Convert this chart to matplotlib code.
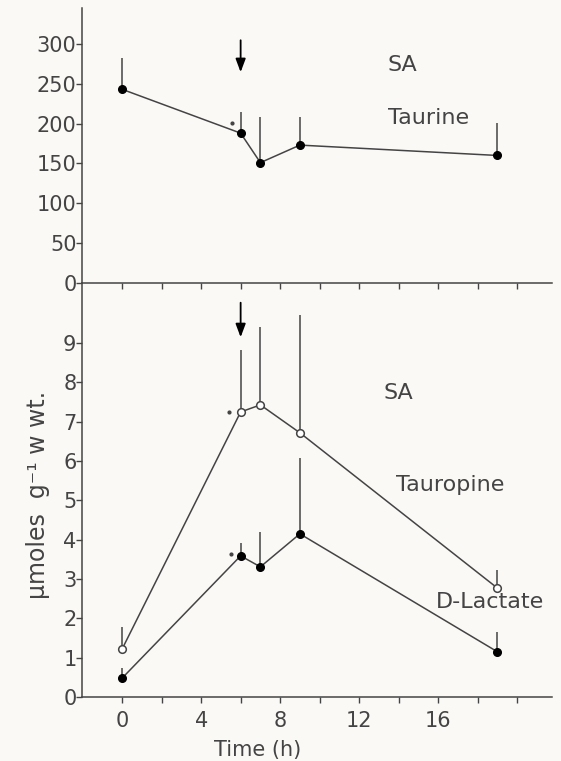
import matplotlib
matplotlib.use("Agg")
import matplotlib.pyplot as plt

# sampling times (h)
time = [0, 6, 7, 9, 19]

# taurine, upper panel (umol/g wet wt) and upward SD
taurine = [243, 188, 151, 173, 160]
taurine_err = [39, 27, 57, 35, 41]

# tauropine and D-lactate, lower panel
tauropine = [1.22, 7.25, 7.43, 6.72, 2.77]
tauropine_err = [0.56, 1.58, 1.98, 3.0, 0.46]
lactate = [0.48, 3.59, 3.31, 4.15, 1.15]
lactate_err = [0.26, 0.33, 0.89, 1.93, 0.50]

top_yticks = [0, 50, 100, 150, 200, 250, 300]
bottom_yticks = list(range(0, 10))
xticks = list(range(0, 21, 2))
xlabels = ["0", "", "4", "", "8", "", "12", "", "16", "", ""]

ink = "#444444"
bg = "#fbf9f6"
plt.rcParams["font.family"] = ["DejaVu Sans"]

fig = plt.figure(figsize=(5.61, 7.61), dpi=100, facecolor=bg)
ax1 = fig.add_axes([0.1462, 0.6281, 0.838, 0.3614])
ax2 = fig.add_axes([0.1462, 0.0841, 0.838, 0.5440])

xlim = (-2.03, 21.77)

for ax in (ax1, ax2):
    ax.patch.set_visible(False)
    ax.set_xlim(*xlim)
    for s in ("top", "right"):
        ax.spines[s].set_visible(False)
    for s in ("left", "bottom"):
        ax.spines[s].set_color(ink)
        ax.spines[s].set_linewidth(1.1)
    ax.set_xticks(xticks)
    ax.tick_params(direction="out", length=4, width=1, color=ink,
                   labelcolor=ink, labelsize=15)
    ax.tick_params(axis="y", pad=0)

# --- upper panel: taurine
ax1.set_ylim(0, 345)
ax1.set_yticks(top_yticks)
ax1.set_xticklabels([])
ax1.errorbar(time, taurine, yerr=[[0] * len(time), taurine_err], fmt="o-",
             color=ink, ecolor=ink, elinewidth=1.1, lw=1.1, capsize=0,
             markersize=5.5, markerfacecolor="black", markeredgecolor="black")
ax1.plot(time[1] - 0.45, taurine[1] + 13, ".", color=ink, markersize=4)
ax1.annotate("", xy=(6, 261), xytext=(6, 308),
             arrowprops=dict(arrowstyle="-|>,head_length=0.8,head_width=0.3",
                             color="black", lw=1.3))
ax1.text(14.2, 274, "SA", ha="center", va="center", fontsize=16, color=ink)
ax1.text(15.5, 207, "Taurine", ha="center", va="center", fontsize=16, color=ink)

# --- lower panel: tauropine and D-lactate
ax2.set_ylim(0, 10.53)
ax2.set_yticks(bottom_yticks)
ax2.set_xticklabels(xlabels)
ax2.tick_params(axis="x", pad=6)
ax2.errorbar(time, tauropine, yerr=[[0] * len(time), tauropine_err], fmt="o-",
             color=ink, ecolor=ink, elinewidth=1.1, lw=1.1, capsize=0,
             markersize=5.5, markerfacecolor="white", markeredgecolor=ink,
             markeredgewidth=1.1, zorder=3)
ax2.errorbar(time, lactate, yerr=[[0] * len(time), lactate_err], fmt="o-",
             color=ink, ecolor=ink, elinewidth=1.1, lw=1.1, capsize=0,
             markersize=5.5, markerfacecolor="black", markeredgecolor="black",
             zorder=3)
ax2.plot(time[1] - 0.6, tauropine[1], ".", color=ink, markersize=4)
ax2.plot(time[1] - 0.5, lactate[1] + 0.05, ".", color=ink, markersize=4)
ax2.annotate("", xy=(6, 9.08), xytext=(6, 10.1),
             arrowprops=dict(arrowstyle="-|>,head_length=0.8,head_width=0.3",
                             color="black", lw=1.3))
ax2.text(14.0, 7.73, "SA", ha="center", va="center", fontsize=16, color=ink)
ax2.text(16.6, 5.39, "Tauropine", ha="center", va="center", fontsize=16, color=ink)
ax2.text(18.6, 2.42, "D-Lactate", ha="center", va="center", fontsize=16, color=ink)

fig.text(38 / 561, 1 - 495 / 761, "µmoles  g⁻¹ w wt.", rotation=90,
         ha="center", va="center", fontsize=17, color=ink)
fig.text(258 / 561, 1 - 750 / 761, "Time (h)", ha="center", va="center",
         fontsize=15, color=ink)

fig.savefig("out.png", dpi=100, facecolor=bg)
